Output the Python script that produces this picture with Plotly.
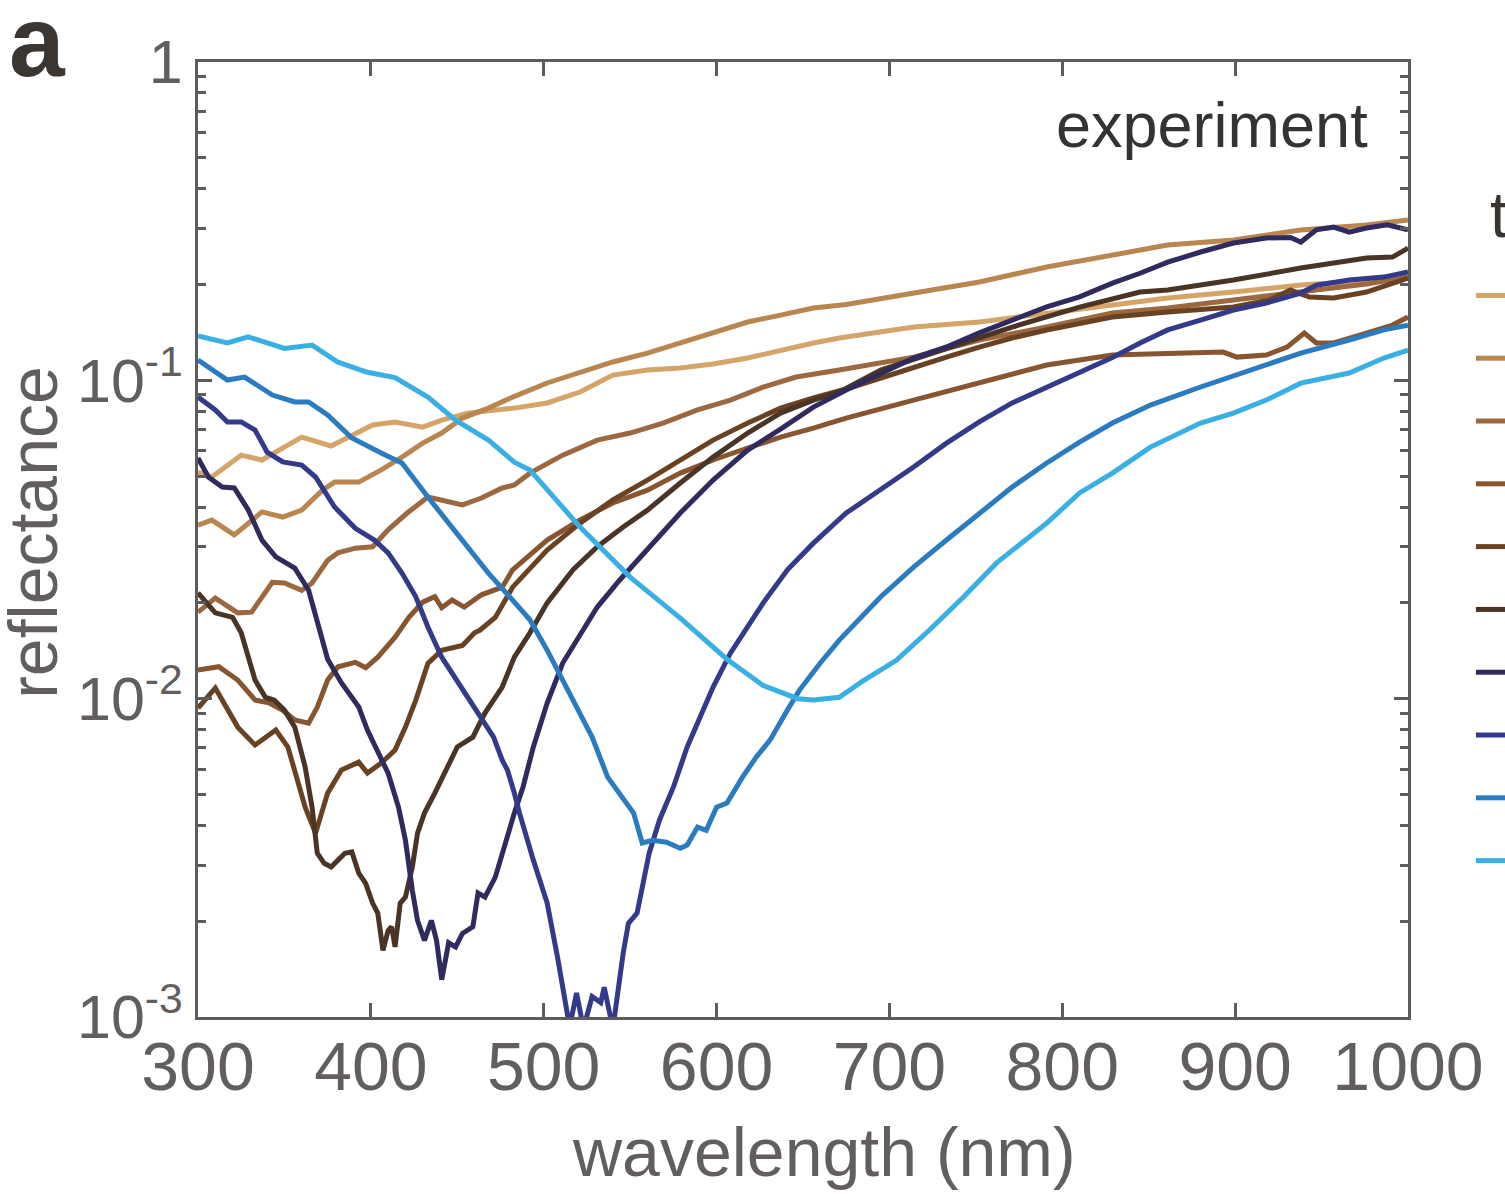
import plotly.graph_objects as go

# ---------------- data (wavelength in nm, reflectance) ----------------
wl_1 = [300, 308, 325, 337, 360, 377, 401, 414, 430, 441, 456, 472, 483, 502, 521, 540, 560, 579, 598, 618, 637, 656, 671, 714, 752, 791, 829, 861, 899, 938, 976, 1000]
r_1 = [0.0515, 0.0497, 0.0582, 0.0562, 0.0663, 0.0622, 0.0724, 0.0740, 0.0713, 0.0750, 0.0789, 0.0807, 0.0818, 0.0849, 0.0919, 0.1039, 0.1077, 0.1093, 0.1125, 0.1175, 0.1245, 0.1310, 0.1358, 0.1470, 0.1525, 0.1627, 0.1724, 0.1814, 0.1894, 0.1993, 0.2051, 0.2111]

wl_2 = [300, 308, 321, 337, 349, 360, 372, 379, 393, 406, 418, 430, 441, 453, 468, 482, 502, 521, 540, 560, 579, 598, 618, 637, 656, 675, 714, 752, 791, 829, 861, 899, 938, 976, 1000]
r_2 = [0.0351, 0.0364, 0.0327, 0.0386, 0.0372, 0.0391, 0.0452, 0.0479, 0.0479, 0.0523, 0.0574, 0.0635, 0.0683, 0.0761, 0.0818, 0.0886, 0.0981, 0.1062, 0.1142, 0.1218, 0.1310, 0.1418, 0.1525, 0.1603, 0.1687, 0.1730, 0.1880, 0.2036, 0.2270, 0.2474, 0.2660, 0.2760, 0.2967, 0.3076, 0.3190]

wl_3 = [300, 310, 323, 331, 343, 350, 360, 366, 375, 381, 391, 401, 410, 421, 433, 441, 453, 464, 476, 483, 492, 511, 531, 550, 569, 589, 608, 627, 646, 671, 714, 752, 791, 829, 861, 899, 938, 976, 1000]
r_3 = [0.0187, 0.0207, 0.0186, 0.0187, 0.0232, 0.0231, 0.0219, 0.0231, 0.0272, 0.0287, 0.0297, 0.0300, 0.0339, 0.0383, 0.0430, 0.0421, 0.0406, 0.0427, 0.0459, 0.0469, 0.0511, 0.0582, 0.0649, 0.0683, 0.0734, 0.0807, 0.0867, 0.0953, 0.1024, 0.1077, 0.1183, 0.1339, 0.1470, 0.1627, 0.1687, 0.1788, 0.1894, 0.2007, 0.2111]

wl_4 = [300, 312, 323, 333, 341, 349, 356, 364, 369, 375, 381, 391, 397, 404, 414, 422, 430, 437, 441, 447, 454, 464, 476, 482, 502, 521, 540, 560, 579, 598, 618, 637, 656, 675, 714, 752, 791, 829, 861, 893, 901, 918, 930, 940, 947, 957, 976, 991, 1000]
r_4 = [0.0123, 0.0126, 0.01144, 0.0099, 0.0097, 0.0092, 0.00857, 0.00838, 0.0094, 0.01144, 0.0126, 0.0130, 0.0125, 0.0135, 0.0156, 0.0180, 0.0201, 0.0209, 0.0193, 0.0204, 0.0194, 0.0212, 0.0224, 0.0254, 0.0315, 0.0364, 0.0412, 0.0452, 0.0511, 0.0562, 0.0613, 0.0663, 0.0708, 0.0761, 0.0867, 0.0985, 0.1117, 0.1201, 0.1218, 0.1227, 0.1183, 0.1201, 0.1272, 0.1408, 0.1310, 0.1310, 0.1408, 0.1492, 0.1580]

wl_5 = [300, 310, 323, 333, 345, 352, 362, 368, 375, 383, 393, 398, 406, 414, 420, 426, 433, 441, 453, 460, 463, 472, 482, 502, 521, 540, 560, 579, 598, 618, 637, 656, 675, 695, 714, 733, 752, 771, 791, 810, 829, 861, 899, 920, 932, 943, 957, 976, 1000]
r_5 = [0.00934, 0.0108, 0.00814, 0.00715, 0.00797, 0.00705, 0.00456, 0.00378, 0.00505, 0.00597, 0.00632, 0.00584, 0.00628, 0.0069, 0.00814, 0.0099, 0.0129, 0.0142, 0.0147, 0.0161, 0.0164, 0.0180, 0.0224, 0.0293, 0.0356, 0.0421, 0.0486, 0.0562, 0.0649, 0.0734, 0.0818, 0.0880, 0.0939, 0.1017, 0.1101, 0.1183, 0.1272, 0.1358, 0.1439, 0.1514, 0.1580, 0.1639, 0.1699, 0.1788, 0.1921, 0.1827, 0.1814, 0.1894, 0.2096]

wl_6 = [300, 310, 320, 325, 333, 339, 344, 350, 356, 362, 366, 369, 373, 377, 381, 385, 389, 393, 397, 401, 404, 407, 410, 412, 414, 417, 420, 424, 427, 431, 437, 443, 450, 459, 466, 476, 483, 492, 502, 517, 531, 546, 560, 579, 598, 618, 637, 656, 671, 695, 733, 771, 810, 845, 861, 899, 938, 957, 976, 991, 1000]
r_6 = [0.0215, 0.0186, 0.0180, 0.0161, 0.01144, 0.0101, 0.0099, 0.0092, 0.00814, 0.0061, 0.00456, 0.00327, 0.00304, 0.00296, 0.00311, 0.00327, 0.0033, 0.00283, 0.00263, 0.00228, 0.00212, 0.00162, 0.00187, 0.00192, 0.00166, 0.00228, 0.00238, 0.00296, 0.00378, 0.00437, 0.00505, 0.00584, 0.00705, 0.00757, 0.00901, 0.01088, 0.0135, 0.0161, 0.0200, 0.0254, 0.0300, 0.0346, 0.0391, 0.0476, 0.0574, 0.0683, 0.0789, 0.0867, 0.0919, 0.1077, 0.1263, 0.1470, 0.1699, 0.1894, 0.1921, 0.2065, 0.2253, 0.2335, 0.2422, 0.2439, 0.2603]

wl_7 = [300, 306, 314, 321, 329, 337, 345, 356, 364, 369, 375, 383, 393, 398, 404, 410, 416, 420, 424, 427, 431, 435, 438, 441, 445, 449, 453, 459, 462, 466, 472, 478, 483, 488, 494, 502, 511, 521, 531, 544, 560, 579, 598, 618, 637, 656, 675, 695, 714, 733, 752, 771, 791, 810, 829, 845, 861, 880, 899, 918, 932, 938, 947, 957, 966, 976, 988, 1000]
r_7 = [0.0570, 0.0497, 0.0462, 0.0459, 0.0392, 0.0315, 0.0279, 0.0257, 0.0219, 0.0174, 0.0133, 0.0112, 0.00942, 0.00797, 0.00675, 0.00583, 0.00456, 0.00359, 0.00250, 0.00201, 0.00174, 0.00201, 0.00174, 0.00131, 0.00171, 0.00166, 0.00183, 0.00192, 0.00245, 0.00238, 0.00275, 0.00359, 0.00437, 0.00527, 0.00705, 0.00969, 0.01294, 0.01585, 0.0194, 0.0236, 0.0293, 0.0383, 0.0486, 0.0604, 0.0703, 0.0824, 0.0933, 0.1054, 0.1175, 0.1273, 0.141, 0.1546, 0.170, 0.183, 0.202, 0.217, 0.235, 0.253, 0.270, 0.280, 0.281, 0.272, 0.297, 0.303, 0.292, 0.301, 0.308, 0.297]

wl_8 = [300, 310, 317, 325, 333, 340, 349, 360, 368, 379, 391, 402, 410, 418, 426, 433, 441, 453, 464, 471, 476, 479, 483, 486, 494, 502, 508, 513, 515, 519, 523, 528, 533, 535, 540, 546, 549, 554, 557, 561, 567, 575, 583, 590, 598, 608, 621, 627, 641, 656, 675, 695, 714, 733, 752, 771, 791, 810, 829, 845, 861, 880, 899, 918, 938, 947, 966, 986, 1000]
r_8 = [0.0886, 0.0807, 0.0740, 0.0740, 0.0698, 0.0595, 0.0554, 0.0542, 0.0497, 0.0400, 0.0343, 0.0315, 0.0287, 0.0248, 0.0209, 0.0168, 0.0135, 0.01064, 0.00857, 0.00757, 0.00641, 0.00597, 0.00505, 0.00437, 0.00311, 0.00228, 0.00154, 0.00111, 0.00093, 0.00119, 0.00092, 0.00116, 0.00111, 0.00124, 0.00092, 0.00159, 0.00197, 0.00212, 0.00256, 0.00327, 0.00416, 0.00527, 0.00705, 0.00857, 0.01087, 0.0139, 0.0177, 0.0200, 0.0254, 0.0308, 0.0383, 0.0452, 0.0534, 0.0635, 0.0740, 0.0849, 0.0953, 0.106, 0.118, 0.131, 0.144, 0.1546, 0.1663, 0.175, 0.188, 0.199, 0.2065, 0.211, 0.219]

wl_9 = [300, 317, 327, 343, 356, 364, 375, 389, 406, 418, 433, 453, 468, 482, 492, 502, 509, 521, 528, 537, 544, 552, 557, 563, 571, 579, 583, 589, 594, 600, 606, 615, 623, 631, 641, 648, 660, 671, 695, 714, 733, 752, 771, 791, 810, 829, 851, 880, 909, 938, 966, 986, 1000]
r_9 = [0.1158, 0.1002, 0.1024, 0.0899, 0.0855, 0.0855, 0.0778, 0.0659, 0.0591, 0.0550, 0.0430, 0.0315, 0.0248, 0.0204, 0.0177, 0.0142, 0.0120, 0.00901, 0.00757, 0.00567, 0.00505, 0.00437, 0.00352, 0.00359, 0.00354, 0.00339, 0.00347, 0.00395, 0.00386, 0.00456, 0.00470, 0.00567, 0.00656, 0.00742, 0.00921, 0.01064, 0.01294, 0.01528, 0.0209, 0.0259, 0.0315, 0.0383, 0.0462, 0.0550, 0.0640, 0.0734, 0.0836, 0.0953, 0.1077, 0.1218, 0.1339, 0.1440, 0.1490]

wl_10 = [300, 317, 329, 350, 366, 381, 398, 414, 433, 449, 468, 483, 492, 521, 550, 579, 606, 627, 647, 656, 671, 685, 704, 723, 743, 762, 791, 810, 829, 851, 880, 899, 918, 938, 966, 986, 1000]
r_10 = [0.138, 0.131, 0.137, 0.126, 0.129, 0.114, 0.106, 0.102, 0.0886, 0.075, 0.0649, 0.0553, 0.0523, 0.0346, 0.0241, 0.0179, 0.0133, 0.0110, 0.0100, 0.0099, 0.0101, 0.0114, 0.0132, 0.0164, 0.0209, 0.0267, 0.0356, 0.0443, 0.0511, 0.0617, 0.0734, 0.0789, 0.0867, 0.098, 0.1054, 0.1175, 0.1245]

series_names = ["10 nm", "15 nm", "20 nm", "25 nm", "30 nm", "35 nm", "40 nm", "45 nm", "50 nm", "60 nm"]
series_colors = ["#D5A468", "#B98650", "#9C6840", "#875630", "#6A4222",
                 "#4A3426", "#2F2B5F", "#343A8A", "#2A7BC0", "#3AAFE3"]

x_ticks = [300, 400, 500, 600, 700, 800, 900, 1000]
y_ticks = [0.001, 0.01, 0.1, 1]
y_ticktext = ["10<sup>-3</sup>", "10<sup>-2</sup>", "10<sup>-1</sup>", "1"]

# ---------------- figure ----------------
AX = "#5c5c5c"
TXT = "#625e5e"
FONT = "Liberation Sans, Arial, Helvetica, sans-serif"

wls = [wl_1, wl_2, wl_3, wl_4, wl_5, wl_6, wl_7, wl_8, wl_9, wl_10]
rs = [r_1, r_2, r_3, r_4, r_5, r_6, r_7, r_8, r_9, r_10]

fig = go.Figure()
for wl, r, nm, col in zip(wls, rs, series_names, series_colors):
    fig.add_trace(go.Scatter(x=wl, y=r, mode="lines", name=nm,
                             line=dict(color=col, width=5)))

minor_vals = [m * 10.0 ** e for e in (-3, -2, -1) for m in range(2, 10)]

fig.update_layout(
    width=1505, height=1194,
    margin=dict(l=198, r=97, t=62, b=177, autoexpand=False),
    paper_bgcolor="white", plot_bgcolor="white",
    font=dict(family=FONT, color=TXT),
    showlegend=True,
    legend=dict(
        x=1.052, xanchor="left", y=0.7937, yanchor="top",
        font=dict(size=46, color=TXT),
        bgcolor="rgba(0,0,0,0)", borderwidth=0,
    ),
    xaxis=dict(
        range=[300, 1000], tickmode="array", tickvals=x_ticks,
        ticks="inside", ticklen=14, tickwidth=3, tickcolor=AX,
        showline=True, linecolor=AX, linewidth=3, mirror="allticks",
        showgrid=False, zeroline=False, ticklabelstandoff=-12,
        tickfont=dict(size=68, color=TXT, family=FONT),
    ),
    yaxis=dict(
        type="log", range=[-3, 0], tickmode="array",
        tickvals=y_ticks, ticktext=y_ticktext,
        ticks="inside", ticklen=14, tickwidth=3, tickcolor=AX,
        minor=dict(tickmode="array", tickvals=minor_vals, ticks="inside",
                   ticklen=8, tickwidth=3, tickcolor=AX, showgrid=False),
        showline=True, linecolor=AX, linewidth=3, mirror="allticks",
        showgrid=False, zeroline=False,
        tickfont=dict(size=61, color=TXT, family=FONT),
    ),
    annotations=[
        dict(text="experiment", xref="paper", yref="paper", x=0.9686, y=0.934,
             xanchor="right", yanchor="middle", showarrow=False,
             font=dict(size=63, color="#333333", family=FONT)),
        dict(text="<b>a</b>", xref="paper", yref="paper", x=-0.133, y=1.0215,
             xanchor="center", yanchor="middle", showarrow=False,
             font=dict(size=100, color="#3b3632", family=FONT)),
        dict(text="reflectance", xref="paper", yref="paper", x=-0.1364, y=0.508,
             xanchor="center", yanchor="middle", textangle=-90, showarrow=False,
             font=dict(size=68, color=TXT, family=FONT)),
        dict(text="wavelength (nm)", xref="paper", yref="paper", x=0.5174, y=-0.1414,
             xanchor="center", yanchor="middle", showarrow=False,
             font=dict(size=68, color=TXT, family=FONT)),
        dict(text="t", xref="paper", yref="paper", x=1.066, y=0.8398,
             xanchor="left", yanchor="middle", showarrow=False,
             font=dict(size=64, color="#3a3530", family=FONT)),
    ],
)

fig.write_html("out.html")
